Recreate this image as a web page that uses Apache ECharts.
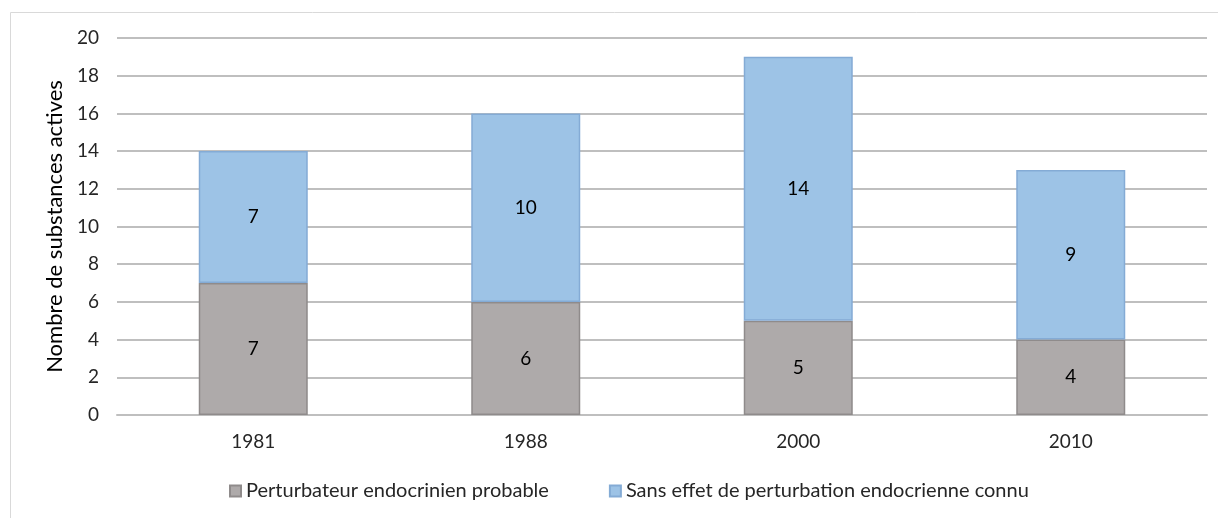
<!DOCTYPE html>
<html><head><meta charset="utf-8">
<script src="https://cdn.jsdelivr.net/npm/echarts@6/dist/echarts.min.js"></script>
<style>html,body{margin:0;padding:0;background:#fff}#c{width:1218px;height:518px}</style>
</head><body><div id="c"></div>
<script>
const categories = ['1981', '1988', '2000', '2010'];
const probable = [7, 6, 5, 4];
const sansEffet = [7, 10, 14, 9];
const seriesNames = ['Perturbateur endocrinien probable', 'Sans effet de perturbation endocrienne connu'];
const yAxisName = 'Nombre de substances actives';

const font = "Lato, 'Noto Sans', sans-serif";
const chart = echarts.init(document.getElementById('c'), null, {renderer: 'canvas'});
chart.setOption({
  animation: false,
  textStyle: {fontFamily: font},
  graphic: [{type: 'rect', shape: {x: 10.5, y: 12.5, width: 1220, height: 520}, style: {fill: 'none', stroke: '#d9d9d9', lineWidth: 1}, silent: true}],
  grid: {left: 117, right: 11, top: 38, bottom: 103, containLabel: false},
  legend: {
    bottom: 12, left: 224, itemGap: 60, itemWidth: 11, itemHeight: 11, icon: 'rect',
    textStyle: {fontFamily: font, fontSize: 20, color: '#262626', padding: [0, 0, 0, 0]},
    data: seriesNames
  },
  xAxis: {
    type: 'category', data: categories,
    axisLine: {lineStyle: {color: '#bfbfbf', width: 2}}, axisTick: {show: false},
    axisLabel: {fontFamily: font, fontSize: 19, color: '#262626', margin: 17}
  },
  yAxis: {
    type: 'value', min: 0, max: 20, interval: 2,
    name: yAxisName, nameLocation: 'middle', nameGap: 48, nameRotate: 90,
    nameTextStyle: {fontFamily: font, fontSize: 22, color: '#000'},
    axisLine: {show: false}, axisTick: {show: false},
    axisLabel: {fontFamily: font, fontSize: 19, color: '#262626', margin: 18},
    splitLine: {lineStyle: {color: '#bfbfbf', width: 2}}
  },
  series: [
    {name: seriesNames[0], type: 'bar', stack: 's', data: probable, barWidth: '40%',
      itemStyle: {color: '#aeaaaa', borderColor: '#8f8b8b', borderWidth: 1.5},
      label: {show: true, position: 'inside', fontFamily: font, fontSize: 19, color: '#000'}},
    {name: seriesNames[1], type: 'bar', stack: 's', data: sansEffet, barWidth: '40%',
      itemStyle: {color: '#9dc3e6', borderColor: '#84abd5', borderWidth: 1.5},
      label: {show: true, position: 'inside', fontFamily: font, fontSize: 19, color: '#000'}}
  ]
});
</script></body></html>
